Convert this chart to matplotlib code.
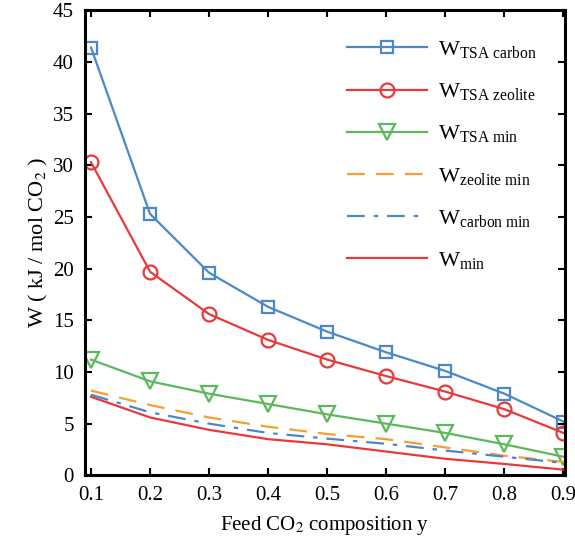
import numpy as np
import matplotlib
matplotlib.use('Agg')
import matplotlib.pyplot as plt

plt.rcParams['font.family'] = ['Liberation Serif', 'DejaVu Serif']
plt.rcParams['mathtext.fontset'] = 'stix'

# feed composition
y_feed = [0.1, 0.2, 0.3, 0.4, 0.5, 0.6, 0.7, 0.8, 0.9]

w_tsa_carbon = [41.4, 25.3, 19.6, 16.3, 13.9, 11.9, 10.1, 7.9, 5.2]
w_tsa_zeolite = [30.3, 19.7, 15.6, 13.1, 11.2, 9.6, 8.1, 6.4, 4.1]
w_tsa_min = [11.2, 9.1, 7.9, 6.9, 5.9, 5.0, 4.1, 3.0, 1.8]
w_zeolite_min = [8.2, 6.8, 5.6, 4.7, 4.0, 3.5, 2.7, 1.9, 1.3]
w_carbon_min = [7.8, 6.1, 5.0, 4.1, 3.55, 3.05, 2.4, 1.8, 1.2]
w_min = [7.6, 5.6, 4.4, 3.5, 3.0, 2.3, 1.6, 1.1, 0.55]

labels = [r'W$_{\mathregular{TSA\ carbon}}$', r'W$_{\mathregular{TSA\ zeolite}}$',
          r'W$_{\mathregular{TSA\ min}}$', r'W$_{\mathregular{zeolite\ min}}$',
          r'W$_{\mathregular{carbon\ min}}$', r'W$_{\mathregular{min}}$']

blue = '#4a88c7'
red = '#e8393c'
green = '#5cb85a'
orange = '#f5a030'

fig = plt.figure(figsize=(5.75, 5.42), dpi=100)
ax = fig.add_axes([0.148, 0.123, 0.835, 0.858])

lw = 1.6
ax.plot(y_feed, w_tsa_carbon, '-s', color=blue, lw=lw, ms=9, mfc='none', mew=1.6, label=labels[0])
ax.plot(y_feed, w_tsa_zeolite, '-o', color=red, lw=lw, ms=10, mfc='none', mew=1.6, label=labels[1])
ax.plot(y_feed, w_tsa_min, '-v', color=green, lw=lw, ms=11, mfc='none', mew=1.6, label=labels[2])
ax.plot(y_feed, w_zeolite_min, '--', color=orange, lw=lw, dashes=(8, 5), label=labels[3])
ax.plot(y_feed, w_carbon_min, '-.', color=blue, lw=lw, dashes=(8, 4, 2, 4), label=labels[4])
ax.plot(y_feed, w_min, '-', color=red, lw=lw, label=labels[5])

ax.set_xlim(0.09, 0.903)
ax.set_ylim(0, 45)
ax.set_xticks([0.1, 0.2, 0.3, 0.4, 0.5, 0.6, 0.7, 0.8, 0.9])
ax.set_xticklabels(['0.1', '0.2', '0.3', '0.4', '0.5', '0.6', '0.7', '0.8', '0.9'])
ax.set_yticks(np.arange(0, 46, 5))
ax.tick_params(direction='in', top=True, right=True, labelsize=15, length=5, width=1.5, pad=8)
for s in ax.spines.values():
    s.set_linewidth(2.2)

ax.set_xlabel(r'Feed CO$_2$ composition y', fontsize=15, labelpad=6)
ax.set_ylabel(r'W ( kJ / mol CO$_2$ )', fontsize=16, labelpad=2)

leg = ax.legend(loc='upper right', frameon=False, fontsize=16, handlelength=3.6,
                labelspacing=0.95, borderaxespad=0.9, handletextpad=0.5)

fig.savefig('out.png', dpi=100)
